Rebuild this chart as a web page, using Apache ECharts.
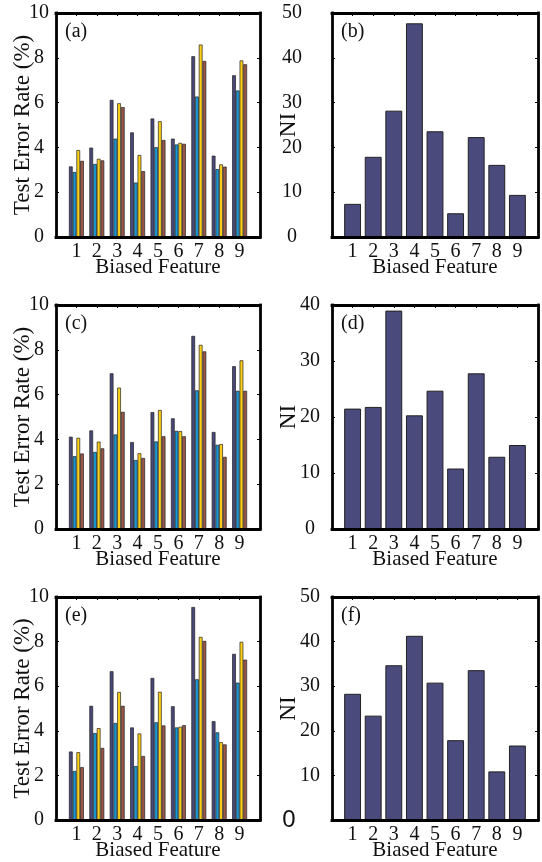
<!DOCTYPE html>
<html><head><meta charset="utf-8">
<script src="https://cdn.jsdelivr.net/npm/echarts/dist/echarts.min.js"></script>
<style>html,body{margin:0;padding:0;background:#fff}#c{width:542px;height:862px}</style>
</head><body><div id="c"></div>
<script>
// ---- data ----
const features = [1, 2, 3, 4, 5, 6, 7, 8, 9];
const seriesNames = ['Method 1', 'Method 2', 'Method 3', 'Method 4'];

// panel (a)
const errA1 = [3.15, 3.99, 6.12, 4.67, 5.29, 4.39, 8.07, 3.63, 7.22];
const errA2 = [2.90, 3.26, 4.39, 2.43, 4.01, 4.13, 6.27, 3.03, 6.54];
const errA3 = [3.88, 3.49, 5.97, 3.66, 5.17, 4.20, 8.59, 3.24, 7.88];
const errA4 = [3.40, 3.42, 5.80, 2.94, 4.33, 4.16, 7.86, 3.14, 7.71];
// panel (b)
const niB = [7.4, 17.9, 28.2, 47.7, 23.6, 5.3, 22.3, 16.1, 9.4];
// panel (c)
const errC1 = [4.12, 4.40, 6.95, 3.88, 5.22, 4.94, 8.62, 4.33, 7.27];
const errC2 = [3.25, 3.44, 4.22, 3.08, 3.91, 4.38, 6.19, 3.76, 6.17];
const errC3 = [4.07, 3.90, 6.31, 3.38, 5.31, 4.37, 8.22, 3.79, 7.53];
const errC4 = [3.37, 3.60, 5.23, 3.17, 4.14, 4.14, 7.93, 3.22, 6.17];
// panel (d)
const niD = [21.5, 21.8, 39.0, 20.3, 24.7, 10.8, 27.8, 12.9, 15.0];
// panel (e)
const errE1 = [3.07, 5.12, 6.67, 4.15, 6.37, 5.10, 9.55, 4.43, 7.45];
const errE2 = [2.20, 3.90, 4.35, 2.42, 4.38, 4.15, 6.31, 3.93, 6.16];
const errE3 = [3.04, 4.12, 5.74, 3.88, 5.75, 4.18, 8.21, 3.49, 7.99];
const errE4 = [2.37, 3.23, 5.12, 2.87, 4.24, 4.25, 8.03, 3.39, 7.19];
// panel (f)
const niF = [28.3, 23.4, 34.7, 41.3, 30.8, 17.9, 33.6, 10.9, 16.7];

// axis ranges / tick steps
const errRange = [0, 10, 2];
const niRangeB = [0, 50, 10];
const niRangeD = [0, 40, 10];
const niRangeF = [0, 50, 10];
const xRange = [0, 10, 1];

// ---- styling ----
const serif = 'Liberation Serif';
const groupColors = ['#48477a', '#1a96d2', '#fdd017', '#9a5646'];
const niColor = '#4b4a7c';
const tops = [13, 305, 597];
const H = 224;

const grid = [], xAxis = [], yAxis = [], series = [], graphic = [];
const boxLine = { color: '#000', width: 2.8, cap: 'square' };

function addPanel(gi, col, top, range, yName, dataList, label, labelMargin) {
  const isErr = col === 0;
  const left = isErr ? 56 : 332;
  const width = isErr ? 204 : 206;
  grid.push({ left: left, top: top, width: width, height: H, containLabel: false });
  const xi = xAxis.length, yi = yAxis.length;
  xAxis.push({
    type: 'value', gridIndex: gi, min: xRange[0], max: xRange[1], interval: xRange[2],
    position: 'bottom', z: 5,
    axisLine: { show: true, onZero: false, lineStyle: boxLine },
    axisTick: { show: false },
    splitLine: { show: false },
    axisLabel: { margin: 5, color: '#111', fontFamily: serif, fontSize: 20,
      formatter: v => (v >= 1 && v <= 9) ? String(features[v - 1]) : '' },
    name: 'Biased Feature', nameLocation: 'middle', nameGap: 20, nameMoveOverlap: false,
    nameTextStyle: { fontFamily: serif, fontSize: 21, color: '#111' }
  });
  xAxis.push({
    type: 'value', gridIndex: gi, min: xRange[0], max: xRange[1], interval: xRange[2],
    position: 'top', z: 5,
    axisLine: { show: true, onZero: false, lineStyle: boxLine },
    axisTick: { show: true, inside: true, length: 3, lineStyle: { color: '#000', width: 1 } },
    splitLine: { show: false }, axisLabel: { show: false }
  });
  const zeroSans = label === '(f)';
  yAxis.push({
    type: 'value', gridIndex: gi, min: range[0], max: range[1], interval: range[2],
    position: 'left', z: 5,
    axisLine: { show: true, onZero: false, lineStyle: boxLine },
    axisTick: { show: true, inside: true, length: 3, lineStyle: { color: '#000', width: 1 } },
    splitLine: { show: false },
    axisLabel: { margin: labelMargin, align: 'center', color: '#111', fontFamily: serif, fontSize: 20,
      formatter: v => (zeroSans && v === 0) ? '{s|0}' : String(v),
      rich: { s: { fontFamily: 'Liberation Sans', fontSize: 24, color: '#111', padding: [0, 42, 0, 0] } } },
    name: yName, nameLocation: 'middle', nameGap: isErr ? 22 : 32, nameMoveOverlap: false,
    nameTextStyle: { fontFamily: serif, fontSize: 23, color: '#111' }
  });
  yAxis.push({
    type: 'value', gridIndex: gi, min: range[0], max: range[1], interval: range[2],
    position: 'right', z: 5,
    axisLine: { show: true, onZero: false, lineStyle: boxLine },
    axisTick: { show: true, inside: true, length: 3, lineStyle: { color: '#000', width: 1 } },
    splitLine: { show: false }, axisLabel: { show: false }
  });
  dataList.forEach((vals, k) => {
    series.push({
      type: 'bar', name: isErr ? seriesNames[k] : 'NI',
      xAxisIndex: xi, yAxisIndex: yi,
      data: vals.map((v, i) => [features[i], v]),
      barGap: '0%', barCategoryGap: isErr ? '27%' : '18%',
      itemStyle: { color: isErr ? groupColors[k] : niColor, borderColor: '#222', borderWidth: isErr ? 0.7 : 1 },
      emphasis: { disabled: true }, z: 2
    });
  });
  graphic.push({ type: 'text', left: left + 9, top: top + 9,
    style: { text: label, font: '20px "Liberation Serif"', fill: '#111' } });
}

addPanel(0, 0, tops[0], errRange, 'Test Error Rate (%)', [errA1, errA2, errA3, errA4], '(a)', 17);
addPanel(1, 1, tops[0], niRangeB, 'NI', [niB], '(b)', 40);
addPanel(2, 0, tops[1], errRange, 'Test Error Rate (%)', [errC1, errC2, errC3, errC4], '(c)', 17);
addPanel(3, 1, tops[1], niRangeD, 'NI', [niD], '(d)', 22);
addPanel(4, 0, tops[2], errRange, 'Test Error Rate (%)', [errE1, errE2, errE3, errE4], '(e)', 17);
addPanel(5, 1, tops[2], niRangeF, 'NI', [niF], '(f)', 22);

const chart = echarts.init(document.getElementById('c'), null, { renderer: 'canvas' });
chart.setOption({
  animation: false,
  backgroundColor: '#fff',
  grid: grid, xAxis: xAxis, yAxis: yAxis, series: series, graphic: graphic
});
</script></body></html>
